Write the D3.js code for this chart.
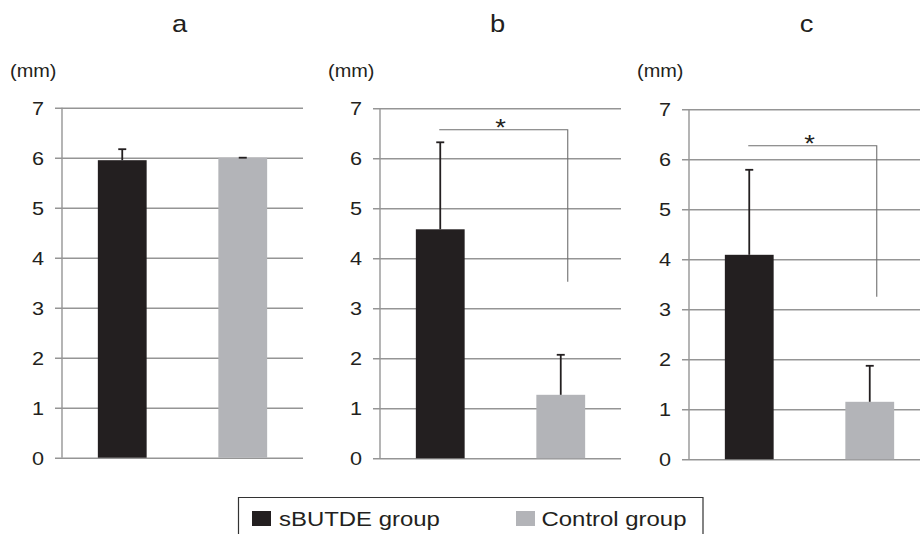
<!DOCTYPE html>
<html>
<head>
<meta charset="utf-8">
<script src="https://cdn.jsdelivr.net/npm/d3@7"></script>
<style>
html,body{margin:0;padding:0;background:#fff;}
svg{display:block;}
text{font-family:"Liberation Sans",Arial,sans-serif;fill:#231f20;}
</style>
</head>
<body>
<svg id="chart" width="920" height="534"></svg>
<script>
// ---- data ----
const panels = ["a", "b", "c"];
const groups = ["sBUTDE group", "Control group"];
const sbutdeMean = [5.95, 4.58, 4.09];
const sbutdeErr  = [0.22, 1.74, 1.70];
const controlMean = [6.00, 1.27, 1.15];
const controlErr  = [0.00, 0.80, 0.72];
const yTicks = [0, 1, 2, 3, 4, 5, 6, 7];
const sigTop    = [null, 6.57, 6.27];
const sigBottom = [null, 3.53, 3.25];
const sigLabel  = [null, "*", "*"];
const unitLabel = "(mm)";

// ---- layout ----
const colors = ["#231f20", "#b3b4b8"];
const gridColor = "#959595";
const panelX = [62, 380, 689];
const panelTop = [107.7, 108.3, 109.3];
const plotW = 241, plotH = 350;
const SX = 1.14; // horizontal glyph stretch of the reference

const svg = d3.select("#chart");

function stretchedText(g, x, y, str, size, anchor) {
  return g.append("text")
    .attr("transform", `translate(${x},${y}) scale(${SX},1)`)
    .attr("text-anchor", anchor || "start")
    .style("font-size", size + "px")
    .text(str);
}

panels.forEach((p, i) => {
  const g = svg.append("g").attr("transform", `translate(${panelX[i]},${panelTop[i]})`);
  const y = d3.scaleLinear().domain([0, 7]).range([plotH, 0]);
  const x = d3.scaleBand().domain(groups).range([0, plotW]).padding(0);
  const barW = x.bandwidth() * 0.405;

  // gridlines + outer ticks
  const yAxis = d3.axisLeft(y).tickValues(yTicks).tickSize(-plotW - 7).tickFormat("").tickSizeOuter(0);
  const ag = g.append("g").call(yAxis);
  ag.select(".domain").remove();
  ag.selectAll(".tick line").attr("x1", -7).attr("x2", plotW)
    .attr("stroke", gridColor).attr("stroke-width", 1.5);
  // vertical axis line
  g.append("line").attr("x1", 0).attr("x2", 0).attr("y1", y(7)).attr("y2", y(0))
    .attr("stroke", gridColor).attr("stroke-width", 1.4);

  // tick labels
  yTicks.forEach(t => {
    stretchedText(g, -18, y(t) + 7, String(t), 19, "end");
  });

  // title + unit
  stretchedText(svg, panelX[i] + plotW / 2 - 3, 32, p, 24, "middle");
  stretchedText(svg, panelX[i] - 52, 76.5, unitLabel, 17.5, "start");

  const means = [sbutdeMean[i], controlMean[i]];
  const errs = [sbutdeErr[i], controlErr[i]];

  groups.forEach((grp, k) => {
    const cx = x(grp) + x.bandwidth() / 2;
    g.append("rect")
      .attr("x", cx - barW / 2).attr("width", barW)
      .attr("y", y(means[k])).attr("height", y(0) - y(means[k]))
      .attr("fill", colors[k]);
    const top = y(means[k] + errs[k]);
    g.append("line").attr("x1", cx).attr("x2", cx)
      .attr("y1", y(means[k])).attr("y2", top)
      .attr("stroke", "#231f20").attr("stroke-width", 1.8);
    g.append("line").attr("x1", cx - 4).attr("x2", cx + 4)
      .attr("y1", top).attr("y2", top)
      .attr("stroke", "#231f20").attr("stroke-width", 1.8);
  });

  // significance bracket
  if (sigTop[i] !== null) {
    const x1 = x(groups[0]) + x.bandwidth() / 2 - 1;
    const x2 = x(groups[1]) + x.bandwidth() / 2 + 7;
    g.append("path")
      .attr("d", `M${x1},${y(sigTop[i])}H${x2}V${y(sigBottom[i])}`)
      .attr("fill", "none").attr("stroke", "#6f6f6f").attr("stroke-width", 1.1);
    stretchedText(g, (x1 + x2) / 2 - 3, y(sigTop[i]) + 6, sigLabel[i], 24, "middle");
  }
});

// ---- legend ----
const lg = svg.append("g");
lg.append("path").attr("d", "M238.5,540V497.5H703V540")
  .attr("fill", "none").attr("stroke", "#333").attr("stroke-width", 1.2);
const legX = [252, 516];
const legTextX = [279, 541.5];
groups.forEach((grp, k) => {
  lg.append("rect").attr("x", legX[k]).attr("y", 511).attr("width", 19).attr("height", 15)
    .attr("fill", colors[k]);
  stretchedText(lg, legTextX[k], 526, grp, 21, "start");
});
</script>
</body>
</html>
